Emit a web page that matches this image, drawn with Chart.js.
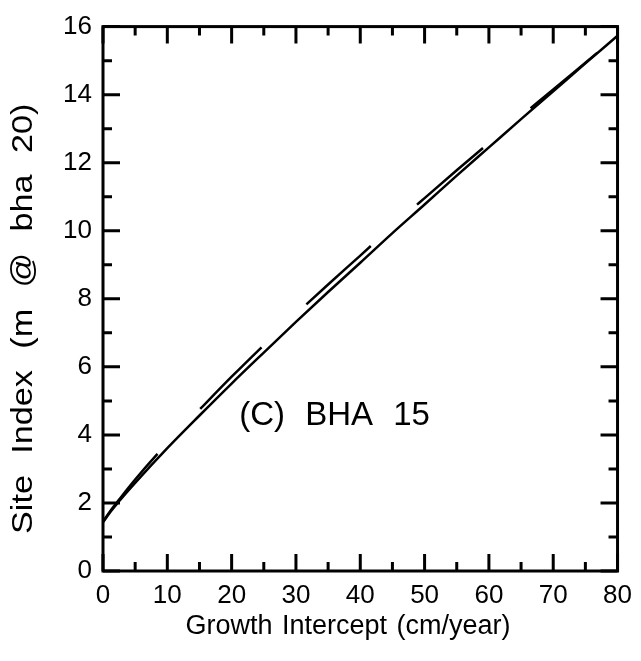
<!DOCTYPE html>
<html>
<head>
<meta charset="utf-8">
<script src="https://cdn.jsdelivr.net/npm/chart.js@4/dist/chart.umd.min.js"></script>
<style>
html,body{margin:0;padding:0;background:#fff;}
#wrap{width:641px;height:661px;}
canvas{display:block;}
</style>
</head>
<body>
<div id="wrap"><canvas id="c" width="641" height="661"></canvas></div>
<script>
// Growth intercept (cm/year)
const growthIntercept = [0, 1, 2.5, 5, 10, 15, 20, 25, 30, 35, 40, 45, 50, 55, 60, 65, 70, 75, 80];
// Site index (m @ bha 20) - solid curve
const siteIndexSolid  = [1.43, 1.70, 2.05, 2.59, 3.61, 4.57, 5.51, 6.42, 7.32, 8.20, 9.06, 9.93, 10.77, 11.62, 12.45, 13.28, 14.10, 14.92, 15.73];
// Site index (m @ bha 20) - dashed curve
const siteIndexDashed = [1.45, 1.73, 2.10, 2.69, 3.76, 4.74, 5.71, 6.64, 7.55, 8.42, 9.27, 10.13, 10.96, 11.78, 12.58, 13.37, 14.15, 14.94, 15.73];

const xMajorTicks = [0, 10, 20, 30, 40, 50, 60, 70, 80];
const xMinorTicks = [5, 15, 25, 35, 45, 55, 65, 75];
const yMajorTicks = [0, 2, 4, 6, 8, 10, 12, 14, 16];
const yMinorTicks = [1, 3, 5, 7, 9, 11, 13, 15];

const xTitle = 'Growth Intercept (cm/year)';
const yTitle = 'Site Index (m @ bha 20)';
const panelLabel = '(C) BHA 15';
const panelLabelPos = {x: 36, y: 4.56};

const FONT = '"Liberation Sans", Arial, Helvetica, sans-serif';

function pts(xs, ys) { return xs.map((v, i) => ({x: v, y: ys[i]})); }

const frameTicks = {
  id: 'frameTicks',
  afterDraw(chart) {
    const {ctx, chartArea: a, scales: {x, y}} = chart;
    ctx.save();
    ctx.strokeStyle = '#000';
    ctx.lineWidth = 3;
    ctx.lineCap = 'butt';
    const MAJ = 17, MIN = 9;
    ctx.beginPath();
    xMajorTicks.forEach(v => {
      const px = x.getPixelForValue(v);
      ctx.moveTo(px, a.bottom); ctx.lineTo(px, a.bottom - MAJ);
      ctx.moveTo(px, a.top); ctx.lineTo(px, a.top + MAJ);
    });
    xMinorTicks.forEach(v => {
      const px = x.getPixelForValue(v);
      ctx.moveTo(px, a.bottom); ctx.lineTo(px, a.bottom - MIN);
      ctx.moveTo(px, a.top); ctx.lineTo(px, a.top + MIN);
    });
    yMajorTicks.forEach(v => {
      const py = y.getPixelForValue(v);
      ctx.moveTo(a.left, py); ctx.lineTo(a.left + MAJ, py);
      ctx.moveTo(a.right, py); ctx.lineTo(a.right - MAJ, py);
    });
    yMinorTicks.forEach(v => {
      const py = y.getPixelForValue(v);
      ctx.moveTo(a.left, py); ctx.lineTo(a.left + MIN, py);
      ctx.moveTo(a.right, py); ctx.lineTo(a.right - MIN, py);
    });
    ctx.stroke();
    ctx.strokeRect(a.left, a.top, a.right - a.left, a.bottom - a.top);

    ctx.fillStyle = '#000';
    ctx.textAlign = 'center';
    ctx.textBaseline = 'middle';

    // panel label
    ctx.font = '33px ' + FONT;
    try { ctx.wordSpacing = '11px'; } catch (e) {}
    ctx.fillText(panelLabel, x.getPixelForValue(panelLabelPos.x), y.getPixelForValue(panelLabelPos.y));

    // x axis title
    ctx.font = '27px ' + FONT;
    try { ctx.wordSpacing = '2px'; } catch (e) {}
    ctx.fillText(xTitle, 348, 627);

    // y axis title
    ctx.save();
    ctx.font = '29px ' + FONT;
    try { ctx.wordSpacing = '10px'; } catch (e) {}
    ctx.translate(24, (a.top + a.bottom) / 2 + 20);
    ctx.rotate(-Math.PI / 2);
    ctx.scale(1.18, 1);
    ctx.fillText(yTitle, 0, 0);
    ctx.restore();
    ctx.restore();
  }
};

new Chart(document.getElementById('c'), {
  type: 'line',
  data: {
    datasets: [
      {
        label: 'solid',
        data: pts(growthIntercept, siteIndexSolid),
        borderColor: '#000',
        borderWidth: 2.5,
        pointRadius: 0,
        cubicInterpolationMode: 'monotone',
        fill: false
      },
      {
        label: 'dashed',
        data: pts(growthIntercept, siteIndexDashed),
        borderColor: '#000',
        borderWidth: 2.5,
        borderDash: [87, 62],
        pointRadius: 0,
        cubicInterpolationMode: 'monotone',
        fill: false
      }
    ]
  },
  options: {
    responsive: false,
    animation: false,
    devicePixelRatio: 1,
    layout: {padding: {top: 19, right: 21, left: 0, bottom: 0}},
    plugins: {legend: {display: false}, tooltip: {enabled: false}},
    scales: {
      x: {
        type: 'linear',
        min: 0, max: 80,
        afterBuildTicks: s => { s.ticks = xMajorTicks.map(v => ({value: v})); },
        afterFit: s => { s.height = 90; },
        grid: {display: false, drawTicks: false},
        border: {display: false},
        ticks: {color: '#000', font: {family: FONT, size: 26}, padding: 9, maxRotation: 0, autoSkip: false},
        title: {display: false}
      },
      y: {
        type: 'linear',
        min: 0, max: 16,
        afterBuildTicks: s => { s.ticks = yMajorTicks.map(v => ({value: v})); },
        afterFit: s => { s.width = 103; },
        grid: {display: false, drawTicks: false},
        border: {display: false},
        ticks: {color: '#000', font: {family: FONT, size: 26}, padding: 11, autoSkip: false},
        title: {display: false}
      }
    }
  },
  plugins: [frameTicks]
});
</script>
</body>
</html>
